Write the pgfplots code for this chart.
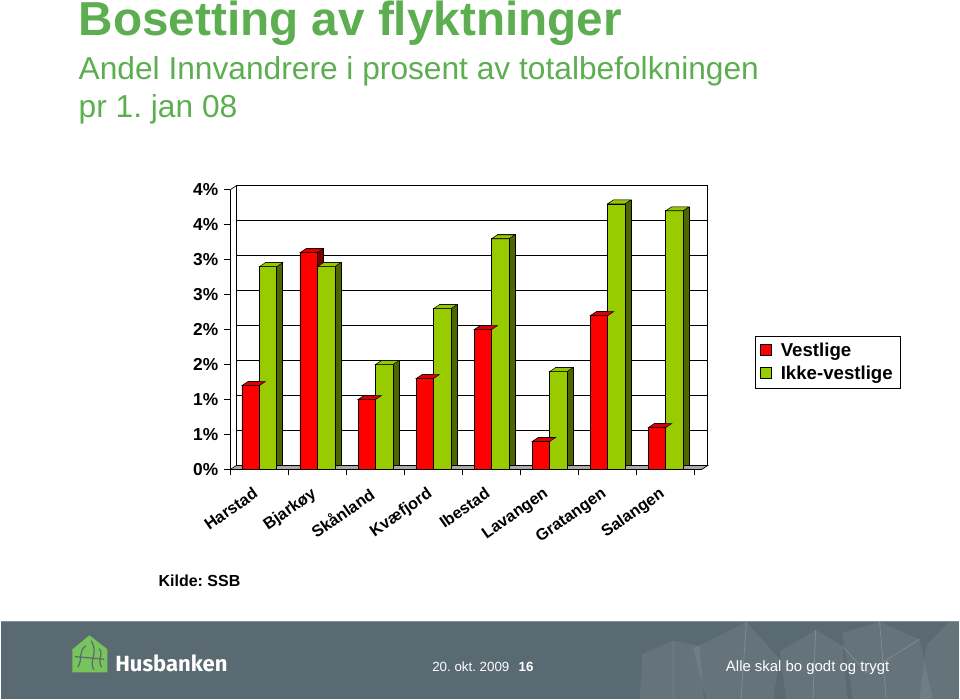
\documentclass[border=0pt]{standalone}
\usepackage{pgfplots}
\pgfplotsset{compat=1.18}
\usepackage{pgfplotstable}
\usepackage{fontspec}
\setmainfont{Liberation Sans}
\newfontfamily\fira{Fira Sans}
\definecolor{ttl}{RGB}{92,174,80}
\definecolor{band}{RGB}{90,106,114}
\definecolor{logogreen}{RGB}{120,196,92}
\definecolor{rfront}{RGB}{255,0,0}
\definecolor{rtop}{RGB}{220,0,0}
\definecolor{rside}{RGB}{128,0,0}
\definecolor{gfront}{RGB}{153,204,0}
\definecolor{gtop}{RGB}{150,200,0}
\definecolor{gside}{RGB}{77,102,0}
\definecolor{floorgray}{RGB}{170,170,170}

\pgfplotstableread{
x red green
0 1.2 2.9
1 3.1 2.9
2 1.0 1.5
3 1.3 2.3
4 2.0 3.3
5 0.4 1.4
6 2.2 3.8
7 0.6 3.7
}\data

\pgfdeclareplotmark{topred}{%
  \pgfpathmoveto{\pgfpoint{-13.08pt}{0pt}}%
  \pgfpathlineto{\pgfpoint{0pt}{0pt}}%
  \pgfpathlineto{\pgfpoint{4.5pt}{3pt}}%
  \pgfpathlineto{\pgfpoint{-8.58pt}{3pt}}%
  \pgfpathclose\pgfusepathqfillstroke}
\pgfdeclareplotmark{topgreen}{%
  \pgfpathmoveto{\pgfpoint{0pt}{0pt}}%
  \pgfpathlineto{\pgfpoint{13.08pt}{0pt}}%
  \pgfpathlineto{\pgfpoint{17.58pt}{3pt}}%
  \pgfpathlineto{\pgfpoint{4.5pt}{3pt}}%
  \pgfpathclose\pgfusepathqfillstroke}

\begin{document}
\frenchspacing
\begin{tikzpicture}[x=1pt,y=1pt]
\path (0,0) rectangle (720,525);
% footer band
\fill[band] (0,0) rectangle (720,58.5);
\draw[white,opacity=0.25,line width=0.8pt] (0,58.5) -- (720,58.5);
\begin{scope}[white]
\fill[opacity=0.07] (480,0) -- (482,34) -- (505,44) -- (525,40) -- (528,0) -- cycle;
\fill[opacity=0.07] (530,0) -- (520,38) -- (560,58) -- (585,30) -- (580,0) -- cycle;
\fill[opacity=0.07] (590,0) -- (585,36) -- (612,52) -- (632,40) -- (636,0) -- cycle;
\fill[opacity=0.07] (640,0) -- (632,50) -- (660,58) -- (690,45) -- (700,0) -- cycle;
\fill[opacity=0.07] (690,0) -- (695,40) -- (712,58) -- (720,58) -- (720,0) -- cycle;
\draw[opacity=0.18,line width=0.5pt] (505,44) -- (505,0) (560,58) -- (556,0) (612,52) -- (610,0) (660,58) -- (665,0) (632,40) -- (650,20) -- (690,45);
\end{scope}
% logo
\fill[logogreen] (54,20.25) -- (54,37.5) -- (66.75,48) -- (80.25,37.5) -- (80.25,20.25) -- cycle;
\draw[band,line width=0.9pt] (58,24) .. controls (62,30) and (58,36) .. (64,40) (70,22) .. controls (66,30) and (74,34) .. (68,44) (76,24) .. controls (72,30) and (78,34) .. (74,38) (56,32) -- (78,30);
\node[anchor=base west, inner sep=0, text=white, font=\fira\bfseries\fontsize{16.5}{18}\selectfont] at (86,21) {Husbanken};
\node[anchor=base west, inner sep=0, text=white, font=\fontsize{10}{12}\selectfont] at (324,20.5) {20. okt. 2009\hspace{7pt}\textbf{16}};
\node[anchor=base west, inner sep=0, text=white, font=\fontsize{11.2}{13}\selectfont] at (544.5,20.5) {Alle skal bo godt og trygt};
% titles
\node[anchor=base west, inner sep=0, text=ttl, font=\bfseries\fontsize{35.8}{40}\selectfont] at (58.5,498) {Bosetting av flyktninger};
\node[anchor=base west, inner sep=0, text=ttl, font=\fontsize{23.8}{28}\selectfont] at (58.5,465) {Andel Innvandrere i prosent av totalbefolkningen};
\node[anchor=base west, inner sep=0, text=ttl, font=\fontsize{23.8}{28}\selectfont] at (58.5,437) {pr 1. jan 08};
\node[anchor=base west, inner sep=0, font=\bfseries\fontsize{12}{14}\selectfont] at (118.5,85) {Kilde: SSB};

\begin{axis}[
  at={(172.5pt,172.5pt)}, anchor=south west,
  scale only axis, width=354pt, height=210pt,
  xmin=-0.5, xmax=7.62, ymin=0, ymax=4,
  axis x line*=bottom, axis y line*=left,
  axis line style={-, black, line width=0.6pt},
  xtick={0,...,7},
  xticklabels={Harstad,Bjarkøy,Skånland,Kvæfjord,Ibestad,Lavangen,Gratangen,Salangen},
  major x tick style={draw=none},
  minor xtick={-0.5,0.5,...,7.5},
  minor tick length=4.5pt,
  ytick={0,0.5,...,4},
  yticklabels={0\%,1\%,1\%,2\%,2\%,3\%,3\%,4\%,4\%},
  major tick length=4.5pt,
  tick align=outside,
  tick style={black, line width=0.6pt},
  ymajorgrids,
  major grid style={black, line width=0.5pt, xshift=4.5pt, yshift=3pt},
  xticklabel style={rotate=35, anchor=north east, inner sep=1pt, xshift=-8pt, yshift=-2.5pt, font=\bfseries\fontsize{12.2}{12}\selectfont},
  yticklabel style={font=\bfseries\fontsize{13}{13}\selectfont, xshift=-1pt},
  legend image code/.code={\draw[#1] (0pt,-3.5pt) rectangle (8.3pt,4.8pt); \path (13pt,0pt);},
  legend style={at={(1.112,0.4786)}, anchor=north west, draw=black, line width=0.6pt,
     font=\bfseries\fontsize{14}{16}\selectfont, row sep=2pt, inner xsep=4pt, inner ysep=3pt,
     cells={anchor=west}, fill=white},
  clip=false,
]
% back wall verticals and floor
\draw[black, line width=0.5pt] ([shift={(4.5pt,3pt)}]axis cs:-0.5,0) -- ([shift={(4.5pt,3pt)}]axis cs:-0.5,4);
\draw[black, line width=0.5pt] ([shift={(4.5pt,3pt)}]axis cs:7.62,0) -- ([shift={(4.5pt,3pt)}]axis cs:7.62,4);
\draw[black, line width=0.5pt] (axis cs:-0.5,4) -- ([shift={(4.5pt,3pt)}]axis cs:-0.5,4);
\fill[floorgray, draw=black, line width=0.5pt] (axis cs:-0.5,0) -- (axis cs:7.62,0) -- ([shift={(4.5pt,3pt)}]axis cs:7.62,0) -- ([shift={(4.5pt,3pt)}]axis cs:-0.5,0) -- cycle;
% red series
\addplot[ybar, bar width=0.3, bar shift=-0.15, fill=rside, draw=black, line width=0.4pt, xshift=4.5pt, yshift=3pt, forget plot] table[x=x,y=red]{\data};
\addplot[only marks, mark=topred, mark options={fill=rtop, draw=black, line width=0.4pt}, forget plot] table[x=x,y=red]{\data};
\addplot[ybar, bar width=0.3, bar shift=-0.15, fill=rfront, draw=black, line width=0.4pt] table[x=x,y=red]{\data};
% green series
\addplot[ybar, bar width=0.3, bar shift=0.15, fill=gside, draw=black, line width=0.4pt, xshift=4.5pt, yshift=3pt, forget plot] table[x=x,y=green]{\data};
\addplot[only marks, mark=topgreen, mark options={fill=gtop, draw=black, line width=0.4pt}, forget plot] table[x=x,y=green]{\data};
\addplot[ybar, bar width=0.3, bar shift=0.15, fill=gfront, draw=black, line width=0.4pt] table[x=x,y=green]{\data};
\legend{Vestlige,Ikke-vestlige}
\end{axis}
\end{tikzpicture}
\end{document}
